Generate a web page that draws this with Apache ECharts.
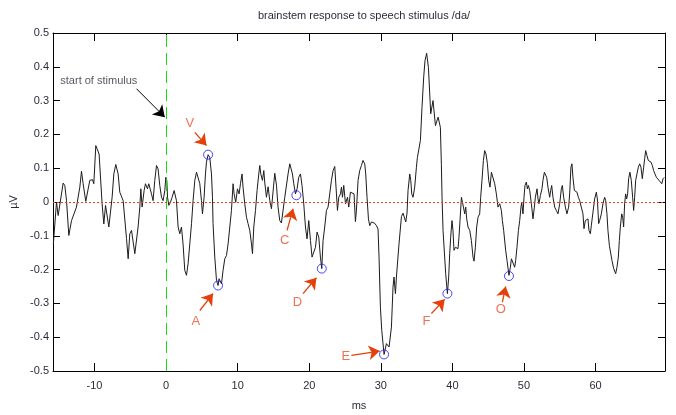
<!DOCTYPE html>
<html>
<head>
<meta charset="utf-8">
<script src="https://cdn.jsdelivr.net/npm/echarts@6/dist/echarts.min.js"></script>
<style>html,body{margin:0;padding:0;background:#fff;}#c{width:676px;height:415px;}</style>
</head>
<body>
<div id="c"></div>
<script>
const titleText = 'brainstem response to speech stimulus /da/';
const xName = 'ms';
const yName = 'µV';
const xTicks = [-10, 0, 10, 20, 30, 40, 50, 60];
const yTicks = [-0.5, -0.4, -0.3, -0.2, -0.1, 0, 0.1, 0.2, 0.3, 0.4, 0.5];
const xMin = -15.8, xMax = 69.7, yMin = -0.5, yMax = 0.5;
const stimulusTime = 0;
const baselineValue = 0;

const timeMs = [
-15.75,-15.31,-15.08,-14.38,-14.15,-13.91,-13.59,-13.21,-12.52,-12.05,-11.82,-11.59,-11.22,-10.66,-10.28,-10.1,-9.82,-9.36,-8.94,-8.7,
-8.46,-8.24,-8.0,-7.54,-7.3,-7.03,-6.7,-6.47,-6.23,-6.0,-5.53,-5.3,-5.07,-4.83,-4.37,-3.91,-3.67,-3.53,-3.35,-3.07,
-2.88,-2.6,-2.42,-2.04,-1.82,-1.58,-1.34,-1.12,-0.88,-0.64,-0.42,-0.18,-0.04,0.1,0.2,0.38,0.61,0.84,1.12,1.31,
1.45,1.68,1.91,2.15,2.37,2.61,2.85,3.07,3.31,3.55,3.77,4.01,4.25,4.47,4.71,4.94,5.08,5.17,5.31,5.5,
5.64,5.87,6.1,6.34,6.48,6.56,6.8,7.04,7.26,7.4,7.6,7.74,7.96,8.2,8.44,8.66,8.9,9.13,9.36,9.5,
9.73,9.97,10.2,10.39,10.61,10.75,10.99,11.23,11.45,11.69,11.93,12.07,12.25,12.49,12.71,12.95,13.09,13.23,13.46,13.65,
13.78,14.02,14.25,14.48,14.72,14.94,15.18,15.42,15.64,15.88,16.11,16.58,17.04,17.28,17.51,17.65,17.84,18.07,18.3,18.53,
18.77,18.99,19.23,19.47,19.69,19.93,20.17,20.39,20.63,20.87,21.09,21.33,21.56,21.75,21.93,22.16,22.4,22.63,22.86,23.1,
23.33,23.56,23.8,23.94,24.12,24.36,24.5,24.64,24.82,25.06,25.34,25.52,25.75,25.98,26.26,26.45,26.59,26.82,27.05,27.29,
27.51,27.75,27.89,28.07,28.27,28.45,28.69,28.91,29.15,29.39,29.61,29.75,29.94,30.13,30.31,30.45,30.78,31.15,31.48,31.7,
31.84,32.04,32.18,32.54,32.88,33.1,33.48,33.66,33.8,34.04,34.18,34.32,34.5,34.73,34.97,35.11,35.3,35.53,35.75,35.99,
36.17,36.4,36.65,36.97,37.29,37.63,38.0,38.32,38.46,38.55,38.69,38.92,39.06,39.3,39.48,39.62,39.76,39.94,40.08,40.22,
40.42,40.78,40.92,41.06,41.26,41.4,41.54,41.72,41.86,42.0,42.18,42.42,42.65,42.88,43.02,43.21,43.39,43.58,43.81,43.95,
44.13,44.33,44.51,44.69,44.89,45.07,45.25,45.45,45.67,45.91,46.14,46.37,46.61,46.84,46.98,47.16,47.44,47.63,47.9,48.1,
48.24,48.46,48.7,48.84,49.02,49.22,49.4,49.58,49.68,49.86,50.0,50.14,50.33,50.47,50.61,50.8,51.03,51.26,51.45,51.59,
51.82,51.96,52.09,52.29,52.51,52.65,52.85,53.03,53.17,53.35,53.59,53.73,53.87,54.05,54.29,54.52,54.75,54.99,55.22,55.36,
55.54,55.78,56.0,56.24,56.38,56.56,56.7,56.84,57.04,57.22,57.4,57.6,57.78,58.01,58.24,58.38,58.57,58.71,58.94,59.08,
59.27,59.41,59.64,59.87,60.11,60.25,60.43,60.57,60.81,61.03,61.27,61.41,61.59,61.73,61.93,62.11,62.29,62.53,62.81,62.99,
63.18,63.32,63.46,63.65,63.79,63.92,64.06,64.2,64.34,64.48,64.62,64.8,64.99,65.18,65.32,65.46,65.6,65.78,65.98,66.16,
66.34,66.53,66.72,66.86,67.0,67.18,67.37,67.56,67.74,67.93,68.11,68.3,68.5,68.68,68.86,69.0,69.25,69.43,69.6
];
const microvolts = [
-0.124,0.0,-0.04,0.056,0.049,0.004,-0.099,-0.055,-0.015,0.044,0.091,0.054,0.002,0.064,0.066,0.054,0.167,0.142,-0.005,-0.065,
-0.01,-0.005,-0.074,0.014,0.083,0.111,0.083,0.029,0.032,0.004,-0.108,-0.168,-0.094,-0.084,-0.153,-0.074,-0.015,0.039,-0.015,0.034,
0.054,0.039,0.054,0.024,0.004,0.064,0.108,0.098,0.049,0.014,0.004,0.034,0.073,0.064,0.014,-0.01,-0.001,0.014,0.034,0.029,
0.004,-0.074,-0.094,-0.074,-0.124,-0.202,-0.217,-0.183,-0.124,-0.064,0.004,0.064,0.088,0.083,0.054,0.004,-0.035,-0.04,0.014,0.083,
0.118,0.14,0.132,0.083,0.014,-0.064,-0.163,-0.232,-0.247,-0.227,-0.222,-0.242,-0.202,-0.168,-0.158,-0.124,-0.074,-0.025,0.054,0.024,
-0.001,0.039,0.024,0.054,0.083,0.044,-0.005,-0.045,-0.064,-0.084,-0.124,-0.153,-0.074,-0.025,0.034,0.083,0.108,0.083,0.064,0.093,
0.059,0.014,0.045,0.005,-0.02,0.03,0.085,0.05,-0.015,-0.055,-0.062,0.014,0.083,0.113,0.118,0.083,0.054,0.024,0.039,0.073,
0.083,0.049,-0.005,-0.074,-0.109,-0.055,-0.114,-0.163,-0.168,-0.134,-0.089,-0.104,-0.163,-0.197,-0.114,-0.074,-0.025,-0.015,0.024,0.064,
0.093,0.105,0.024,-0.025,0.014,0.024,0.044,0.014,0.049,-0.005,0.014,-0.015,0.029,0.024,0.024,-0.058,-0.024,0.064,0.093,0.108,
0.123,0.113,0.083,0.014,-0.05,-0.07,-0.059,-0.064,-0.063,-0.07,-0.08,-0.163,-0.311,-0.38,-0.42,-0.451,-0.419,-0.429,-0.37,-0.252,
-0.222,-0.271,-0.222,-0.124,-0.043,-0.033,-0.059,-0.033,0.034,0.083,0.064,0.024,0.014,0.044,0.103,0.132,0.137,0.182,0.28,0.37,
0.418,0.44,0.398,0.261,0.3,0.226,0.251,0.221,0.11,0.014,-0.084,-0.163,-0.212,-0.271,-0.222,-0.153,-0.104,-0.055,-0.084,-0.143,
-0.134,-0.138,-0.104,-0.055,0.014,0.019,-0.015,-0.035,-0.015,-0.05,-0.074,-0.084,-0.114,-0.163,-0.175,-0.134,-0.074,-0.045,-0.035,0.014,
0.064,0.123,0.152,0.142,0.113,0.064,0.044,0.088,0.093,0.054,0.024,-0.015,-0.005,-0.025,-0.055,-0.084,-0.143,-0.173,-0.217,-0.193,
-0.168,-0.163,-0.193,-0.173,-0.134,-0.084,-0.055,-0.015,-0.001,-0.035,0.014,0.049,0.059,0.039,0.049,0.034,-0.005,-0.05,-0.015,0.014,
0.039,0.009,-0.005,0.019,0.039,0.064,0.088,0.093,0.073,0.044,0.014,0.034,0.049,0.014,-0.015,-0.025,-0.035,-0.005,0.039,0.049,
0.014,-0.015,-0.035,-0.015,0.024,0.103,0.113,0.073,0.034,0.039,0.029,0.014,0.004,-0.001,-0.035,-0.079,-0.055,-0.06,-0.05,-0.084,
-0.094,-0.069,-0.03,0.009,0.029,0.009,-0.064,-0.055,-0.035,-0.005,0.014,0.004,-0.035,-0.084,-0.129,-0.134,-0.173,-0.197,-0.212,-0.193,
-0.163,-0.114,-0.074,-0.035,-0.045,-0.074,-0.005,0.024,0.009,0.024,0.069,0.088,0.064,0.014,-0.025,0.014,0.064,0.083,0.103,0.113,
0.103,0.069,0.103,0.128,0.152,0.137,0.123,0.123,0.118,0.108,0.093,0.083,0.073,0.069,0.064,0.069,0.054,0.069,0.073
];

const peakNames = ['V', 'A', 'C', 'D', 'E', 'F', 'O'];
const peakTimes = [5.87, 7.26, 18.2, 21.75, 30.45, 39.3, 47.9];
const peakValues = [0.14, -0.247, 0.02, -0.197, -0.451, -0.271, -0.219];
const peakLabelTimes = [3.31, 4.15, 16.58, 18.35, 25.1, 36.37, 46.75];
const peakLabelValues = [0.232, -0.352, -0.114, -0.296, -0.456, -0.352, -0.319];
const arrowFromTimes = [4.01, 4.71, 16.9, 19.13, 25.89, 37.07, 46.98];
const arrowFromValues = [0.206, -0.321, -0.084, -0.271, -0.454, -0.33, -0.296];
const arrowToTimes = [5.64, 6.56, 17.74, 21.0, 29.85, 38.92, 47.44];
const arrowToValues = [0.167, -0.271, -0.02, -0.224, -0.441, -0.288, -0.25];

const stimulusLabel = 'start of stimulus';
const stimulusLabelTime = -9.4, stimulusLabelValue = 0.357;
const stimulusArrowFrom = [-4.13, 0.335];
const stimulusArrowTo = [-0.18, 0.251];

const FONT = "'Liberation Sans', Arial, sans-serif";
const TXT = '#2e2a3a';

const chart = echarts.init(document.getElementById('c'), null, {renderer: 'canvas'});

const lineData = timeMs.map((t, i) => [t, microvolts[i]]);
const peakData = peakTimes.map((t, i) => ({name: peakNames[i], value: [t, peakValues[i]]}));
const letterData = peakLabelTimes.map((t, i) => ({name: peakNames[i], value: [t, peakLabelValues[i]]}));
const arrowData = arrowFromTimes.map((t, i) => [
  {coord: [t, arrowFromValues[i]]},
  {coord: [arrowToTimes[i], arrowToValues[i]]}
]);

const axisCommon = {
  type: 'value',
  axisLine: {show: true, onZero: false, lineStyle: {color: '#000', width: 1}},
  splitLine: {show: false}
};

chart.setOption({
  animation: false,
  backgroundColor: '#fff',
  title: {
    text: titleText, left: 359, top: 5, textAlign: 'center',
    textStyle: {fontFamily: FONT, fontSize: 11, fontWeight: 'normal', color: TXT}
  },
  grid: {left: 53, right: 11, top: 33, bottom: 44, outerBoundsMode: 'none', containLabel: false},
  xAxis: [
    Object.assign({}, axisCommon, {
      min: xMin, max: xMax, position: 'bottom',
      name: xName, nameLocation: 'middle', nameGap: 29,
      nameTextStyle: {fontFamily: FONT, fontSize: 11, color: TXT},
      axisTick: {show: true, inside: true, length: 8, customValues: xTicks, lineStyle: {color: '#000'}},
      axisLabel: {show: true, customValues: xTicks, margin: 9, fontFamily: FONT, fontSize: 11, color: TXT}
    }),
    Object.assign({}, axisCommon, {
      min: xMin, max: xMax, position: 'top',
      axisTick: {show: true, inside: true, length: 8, customValues: xTicks, lineStyle: {color: '#000'}},
      axisLabel: {show: false}
    })
  ],
  yAxis: [
    Object.assign({}, axisCommon, {
      min: yMin, max: yMax, position: 'left',
      name: yName, nameLocation: 'middle', nameGap: 30, nameRotate: 90,
      nameTextStyle: {fontFamily: FONT, fontSize: 11, color: TXT},
      axisTick: {show: true, inside: true, length: 7, customValues: yTicks, lineStyle: {color: '#000'}},
      axisLabel: {show: true, customValues: yTicks, margin: 4, fontFamily: FONT, fontSize: 11, color: TXT,
        formatter: v => String(Math.round(v * 10) / 10)}
    }),
    Object.assign({}, axisCommon, {
      min: yMin, max: yMax, position: 'right',
      axisTick: {show: true, inside: true, length: 7, customValues: yTicks, lineStyle: {color: '#000'}},
      axisLabel: {show: false}
    })
  ],
  series: [
    {
      type: 'line', name: 'response', data: lineData, showSymbol: false, symbol: 'none',
      lineStyle: {color: '#1c1c1c', width: 1}, z: 3,
      markLine: {
        silent: true, symbol: 'none', label: {show: false},
        data: [
          {xAxis: stimulusTime, lineStyle: {color: '#10e010', type: [12, 6], width: 1}},
          {yAxis: baselineValue, lineStyle: {color: '#e8401a', type: [2, 2], width: 1.2}}
        ]
      }
    },
    {
      type: 'scatter', name: 'peaks', data: peakData, symbol: 'circle', symbolSize: 9,
      itemStyle: {color: 'rgba(0,0,0,0)', borderColor: '#1a1aff', borderWidth: 1}, z: 4
    },
    {
      type: 'scatter', name: 'letters', data: letterData, symbolSize: 1,
      itemStyle: {color: 'rgba(0,0,0,0)'}, z: 5,
      label: {show: true, position: 'inside', formatter: p => p.name,
        fontFamily: FONT, fontSize: 13, color: '#e8502a'},
      markLine: {
        silent: true, symbol: ['none', 'arrow'], symbolSize: 11,
        label: {show: false},
        lineStyle: {color: '#e5400a', width: 1.3, type: 'solid'},
        data: arrowData
      }
    },
    {
      type: 'scatter', name: 'stimulus', data: [{name: stimulusLabel, value: [stimulusLabelTime, stimulusLabelValue]}],
      symbolSize: 1, itemStyle: {color: 'rgba(0,0,0,0)'}, z: 5,
      label: {show: true, position: 'inside', formatter: p => p.name,
        fontFamily: FONT, fontSize: 11, color: TXT},
      markLine: {
        silent: true, symbol: ['none', 'arrow'], symbolSize: 11,
        label: {show: false},
        lineStyle: {color: '#000', width: 1, type: 'solid'},
        itemStyle: {color: '#000'},
        data: [[{coord: stimulusArrowFrom}, {coord: stimulusArrowTo}]]
      }
    }
  ]
});
</script>
</body>
</html>
